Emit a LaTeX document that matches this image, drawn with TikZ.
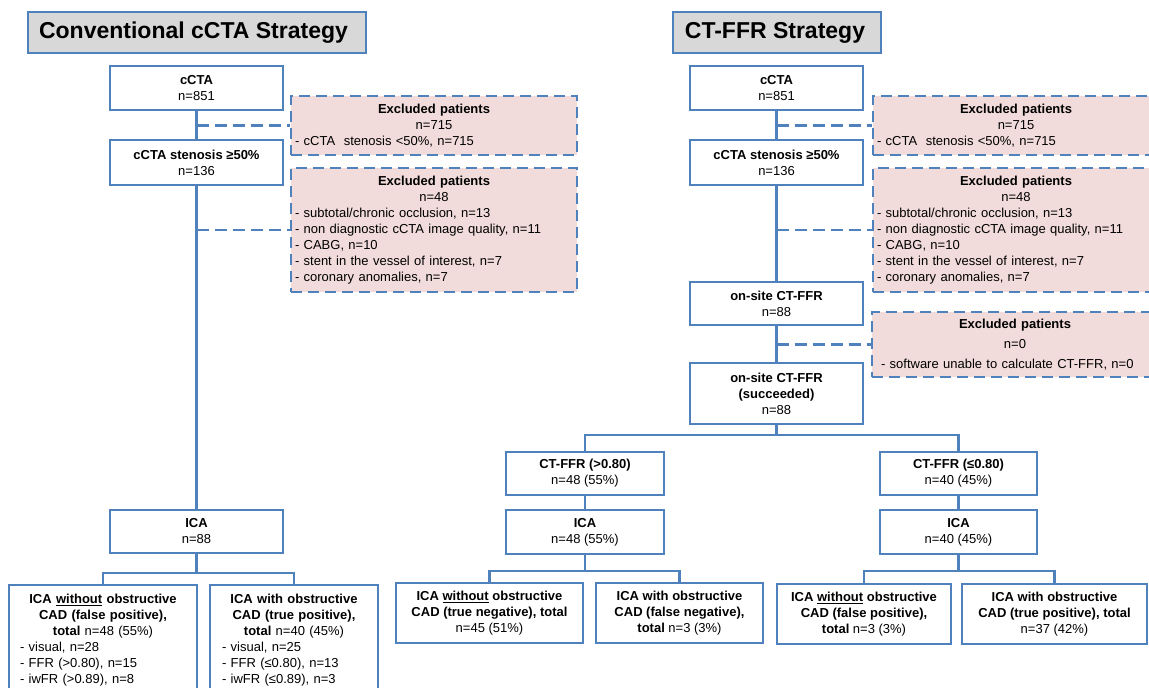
\documentclass[tikz,border=0pt]{standalone}
\usepackage{fontspec}
\setmainfont{Liberation Sans}
\usetikzlibrary{calc, positioning}

\definecolor{flowblue}{RGB}{79,129,189}
\definecolor{exred}{RGB}{242,220,219}
\definecolor{titlegray}{RGB}{216,216,216}
\newcommand{\ctr}[1]{\makebox[\linewidth]{#1}}

\begin{document}
\begin{tikzpicture}[x=1pt, y=-1pt, font=\fontsize{13}{16}\selectfont,
	wh/.style 2 args={minimum width=#1, minimum height=#2},
	box/.style={draw=flowblue, line width=2.2pt, fill=white, align=center, inner sep=0pt},
	listbox/.style={box, align=left, inner xsep=11pt},
	titlebox/.style={draw=flowblue, line width=2.2pt, fill=titlegray, inner sep=0pt, font=\fontsize{23}{27}\selectfont\bfseries},
	exbox/.style={draw=flowblue, line width=2.4pt, dash pattern=on 11pt off 6pt, fill=exred, align=left, inner xsep=4pt, inner ysep=0pt, text width=278pt},
	link/.style={draw=flowblue, line width=2.4pt},
	exlink/.style={link, line width=2.8pt, dash pattern=on 12pt off 6pt}]
	\useasboundingbox (0,0) rectangle (1149,688);

	% conventional strategy
	\node[titlebox, wh={338}{41}] (tl) at (197,32.5) {\hspace*{-7pt}Conventional cCTA Strategy};
	\node[box, wh={173}{44}] (cl1) at (196.5,88) {\textbf{cCTA}\\n=851};
	\node[box, wh={173}{45}] (cl2) at (196.5,162.5) {\textbf{cCTA stenosis ≥50\%}\\n=136};
	\node[box, wh={173}{43}] (cl3) at (196.5,531.5) {\textbf{ICA}\\n=88};
	\node[exbox, minimum height=59] (xl1) at (434,125.5) {\ctr{\textbf{Excluded patients}}\\\ctr{n=715}\\- cCTA\ \ stenosis <50\%, n=715};
	\node[exbox, minimum height=124] (xl2) at (434,230) {\ctr{\textbf{Excluded patients}}\\\ctr{n=48}\\- subtotal/chronic occlusion, n=13\\- non diagnostic cCTA image quality, n=11\\- CABG, n=10\\- stent in the vessel of interest, n=7\\- coronary anomalies, n=7};
	\node[listbox, text width=166pt, minimum height=110] (bl1) at (103,640) {\ctr{\textbf{ICA \underline{without} obstructive}}\\\ctr{\textbf{CAD (false positive),}}\\\ctr{\textbf{total} n=48 (55\%)}\\- visual, n=28\\- FFR (>0.80), n=15\\- iwFR (>0.89), n=8};
	\node[listbox, text width=144pt, inner xsep=12pt, minimum height=110] (bl2) at (294,640) {\ctr{\textbf{ICA with obstructive}}\\\ctr{\textbf{CAD (true positive),}}\\\ctr{\textbf{total} n=40 (45\%)}\\- visual, n=25\\- FFR (≤0.80), n=13\\- iwFR (≤0.89), n=3};

	% CT-FFR strategy
	\node[titlebox, wh={208}{41}] (tr) at (777,32.5) {\hspace*{-4pt}CT-FFR Strategy};
	\node[box, wh={173}{44}] (cr1) at (776.5,88) {\textbf{cCTA}\\n=851};
	\node[box, wh={173}{45}] (cr2) at (776.5,162.5) {\textbf{cCTA stenosis ≥50\%}\\n=136};
	\node[box, wh={173}{43}] (cr3) at (776.5,303.5) {\textbf{on-site CT-FFR}\\n=88};
	\node[box, wh={173}{61}] (cr4) at (776.5,393.5) {\textbf{on-site CT-FFR}\\\textbf{(succeeded)}\\n=88};
	\node[exbox, minimum height=59] (xr1) at (1016,125.5) {\ctr{\textbf{Excluded patients}}\\\ctr{n=715}\\- cCTA\ \ stenosis <50\%, n=715};
	\node[exbox, minimum height=124] (xr2) at (1016,230) {\ctr{\textbf{Excluded patients}}\\\ctr{n=48}\\- subtotal/chronic occlusion, n=13\\- non diagnostic cCTA image quality, n=11\\- CABG, n=10\\- stent in the vessel of interest, n=7\\- coronary anomalies, n=7};
	\node[exbox, minimum height=65] (xr3) at (1015,344.5) {\ctr{\textbf{Excluded patients}}\\[4pt]\ctr{n=0}\\[4pt]\hspace*{5pt}- software unable to calculate CT-FFR, n=0};
	\node[box, wh={158}{43}] (ca1) at (585,473.5) {\textbf{CT-FFR (>0.80)}\\n=48 (55\%)};
	\node[box, wh={158}{44}] (ca2) at (585,532) {\textbf{ICA}\\n=48 (55\%)};
	\node[box, wh={157}{43}] (cb1) at (958.5,473.5) {\textbf{CT-FFR (≤0.80)}\\n=40 (45\%)};
	\node[box, wh={157}{44}] (cb2) at (958.5,532) {\textbf{ICA}\\n=40 (45\%)};
	\node[box, wh={187}{60}] (ra1) at (489.5,613) {\textbf{ICA \underline{without} obstructive}\\\textbf{CAD (true negative), total}\\n=45 (51\%)};
	\node[box, wh={167}{60}] (ra2) at (679.5,613) {\textbf{ICA with obstructive}\\\textbf{CAD (false negative),}\\\textbf{total} n=3 (3\%)};
	\node[box, wh={174}{60}] (rb1) at (864,614) {\textbf{ICA \underline{without} obstructive}\\\textbf{CAD (false positive),}\\\textbf{total} n=3 (3\%)};
	\node[box, wh={185}{60}] (rb2) at (1054.5,614) {\textbf{ICA with obstructive}\\\textbf{CAD (true positive), total}\\n=37 (42\%)};

	% connectors
	\draw[link] (cl1) -- (cl2);
	\draw[link] (cl2) -- (cl3);
	\draw[exlink] (xl1.west -| cl1.south) -- (xl1.west);
	\draw[exlink] (xl2.west -| cl2.south) -- (xl2.west);
	\draw[link] (cl3.south) -- ++(0,19) coordinate (jl);
	\draw[link] (jl) -| (bl1.north);
	\draw[link] (jl) -| (bl2.north);

	\draw[link] (cr1) -- (cr2);
	\draw[link] (cr2) -- (cr3);
	\draw[link] (cr3) -- (cr4);
	\draw[exlink] (xr1.west -| cr1.south) -- (xr1.west);
	\draw[exlink] (xr2.west -| cr2.south) -- (xr2.west);
	\draw[exlink] (xr3.west -| cr3.south) -- (xr3.west);
	\draw[link] (cr4.south) -- ++(0,10) coordinate (jr);
	\draw[link] (jr) -| (ca1.north);
	\draw[link] (jr) -| (cb1.north);
	\draw[link] (ca1) -- (ca2);
	\draw[link] (cb1) -- (cb2);
	\draw[link] (ca2.south) -- ++(0,16) coordinate (ja);
	\draw[link] (ja) -| (ra1.north);
	\draw[link] (ja) -| (ra2.north);
	\draw[link] (cb2.south) -- ++(0,16) coordinate (jb);
	\draw[link] (jb) -| (rb1.north);
	\draw[link] (jb) -| (rb2.north);
\end{tikzpicture}
\end{document}
